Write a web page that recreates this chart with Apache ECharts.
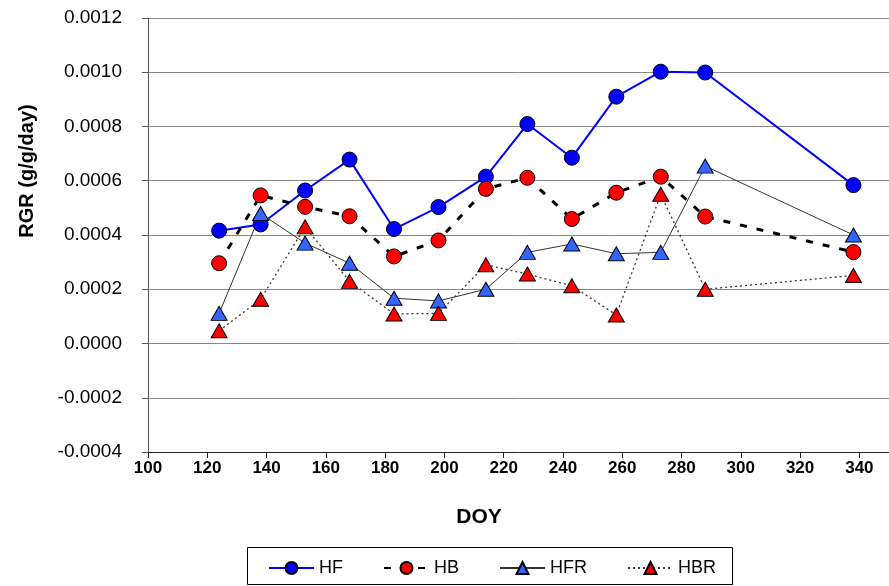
<!DOCTYPE html>
<html>
<head>
<meta charset="utf-8">
<script src="https://cdn.jsdelivr.net/npm/echarts@6/dist/echarts.min.js"></script>
<style>
  html, body { margin: 0; padding: 0; background: #fff; }
  #chart { width: 889px; height: 586px; }
</style>
</head>
<body>
<div id="chart"></div>
<script>
'use strict';

// day of year for each sampling date
var doy = [124, 138, 153, 168, 183, 198, 214, 228, 243, 258, 273, 288, 338];

var hf  = [0.000416, 0.000439, 0.000564, 0.000678, 0.000422, 0.000503, 0.000615, 0.000809, 0.000685, 0.000910, 0.001002, 0.000999, 0.000584];
var hb  = [0.000296, 0.000546, 0.000504, 0.000469, 0.000321, 0.000380, 0.000570, 0.000611, 0.000459, 0.000556, 0.000615, 0.000468, 0.000337];
var hfr = [0.000111, 0.000479, 0.000370, 0.000296, 0.000167, 0.000157, 0.000200, 0.000336, 0.000367, 0.000331, 0.000336, 0.000654, 0.000400];
var hbr = [0.000047, 0.000163, 0.000430, 0.000229, 0.000109, 0.000111, 0.000290, 0.000256, 0.000213, 0.000105, 0.000550, 0.000200, 0.000251];

function pairs(vals) {
  return doy.map(function (d, i) { return [d, vals[i]]; });
}

var font = "'Liberation Sans', Arial, sans-serif";

var myChart = echarts.init(document.getElementById('chart'));
var option = {
  animation: false,
  backgroundColor: '#fff',
  grid: { left: 148, top: 18, right: -6, bottom: 134 },
  xAxis: {
    type: 'value',
    min: 100, max: 350, interval: 20,
    axisLine: { onZero: false, lineStyle: { color: '#222', width: 1 } },
    axisTick: { inside: false, length: 6, lineStyle: { color: '#222' } },
    axisLabel: {
      showMaxLabel: false,
      margin: 8,
      color: '#000',
      fontWeight: 'bold',
      fontSize: 17,
      fontFamily: font
    },
    splitLine: { show: false },
    minorSplitLine: { show: false },
    splitArea: { show: false }
  },
  yAxis: {
    type: 'value',
    min: -0.0004, max: 0.0012, interval: 0.0002,
    axisLine: { show: true, onZero: false, lineStyle: { color: '#555', width: 1 } },
    axisTick: { show: true, length: 6, lineStyle: { color: '#555' } },
    axisLabel: {
      margin: 26,
      color: '#000',
      fontSize: 19,
      fontFamily: font,
      formatter: function (v) {
        if (Math.abs(v) < 1e-9) return '0.0000';
        return v.toFixed(4);
      }
    },
    splitLine: { show: true, lineStyle: { color: '#888', width: 1 } }
  },
  legend: {
    left: 268, top: 559,
    padding: 0,
    itemWidth: 45, itemHeight: 15, itemGap: 40,
    textStyle: { fontSize: 18, fontFamily: font, color: '#000' },
    data: ['HF', 'HB', 'HFR', 'HBR']
  },
  graphic: [
    {
      type: 'rect',
      shape: { x: 247.5, y: 547.5, width: 485, height: 37 },
      style: { fill: 'none', stroke: '#000', lineWidth: 1 }
    },
    {
      type: 'text', x: 27, y: 171, rotation: Math.PI / 2,
      style: {
        text: 'RGR (g/g/day)', fontSize: 20, fontWeight: 'bold', fontFamily: font,
        fill: '#000', textAlign: 'center', textVerticalAlign: 'middle'
      }
    },
    {
      type: 'text', x: 479, y: 517,
      style: {
        text: 'DOY', fontSize: 21, fontWeight: 'bold', fontFamily: font,
        fill: '#000', textAlign: 'center', textVerticalAlign: 'middle'
      }
    }
  ],
  series: [
    {
      name: 'HF', type: 'line', data: pairs(hf),
      symbol: 'circle', symbolSize: 15,
      lineStyle: { color: '#0000FF', width: 2 },
      itemStyle: { color: '#0000FF', borderColor: '#000', borderWidth: 1 }
    },
    {
      name: 'HB', type: 'line', data: pairs(hb),
      symbol: 'circle', symbolSize: 15,
      lineStyle: { color: '#000', width: 3, type: [7, 10] },
      itemStyle: { color: '#FF0000', borderColor: '#000', borderWidth: 1 }
    },
    {
      name: 'HFR', type: 'line', data: pairs(hfr),
      symbol: 'triangle', symbolSize: [16, 14],
      lineStyle: { color: '#333', width: 1 },
      itemStyle: { color: '#3366FF', borderColor: '#000', borderWidth: 1 }
    },
    {
      name: 'HBR', type: 'line', data: pairs(hbr),
      symbol: 'triangle', symbolSize: [16, 14],
      lineStyle: { color: '#333', width: 1.3, type: [2, 3] },
      itemStyle: { color: '#FF0000', borderColor: '#000', borderWidth: 1 }
    }
  ]
};
myChart.setOption(option);
</script>
</body>
</html>
